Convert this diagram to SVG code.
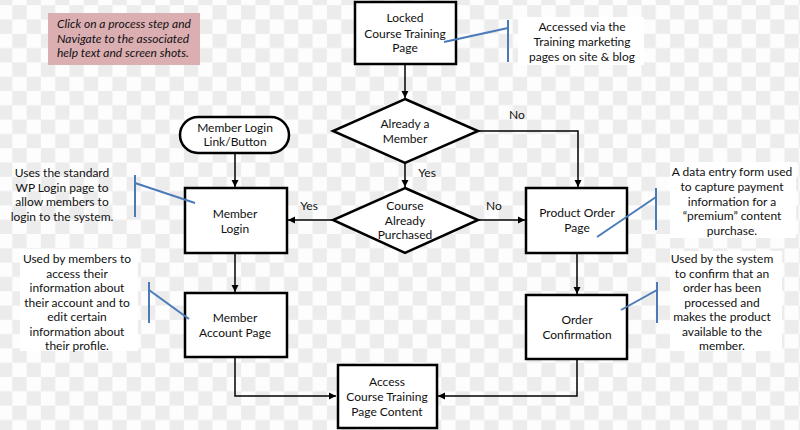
<svg xmlns="http://www.w3.org/2000/svg" width="800" height="430" viewBox="0 0 800 430">
<defs>
<pattern id="checker" patternUnits="userSpaceOnUse" x="12.3" y="5.2" width="28.6" height="28.6">
<rect width="28.6" height="28.6" fill="#fdfdfd"/>
<rect width="14.3" height="14.3" fill="#ececec"/>
<rect x="14.3" y="14.3" width="14.3" height="14.3" fill="#ececec"/>
</pattern>
<marker id="arr" markerWidth="8" markerHeight="8" refX="7" refY="4" orient="auto" markerUnits="userSpaceOnUse">
<path d="M0,0.5 L7,4 L0,7.5 Z" fill="#000"/>
</marker>
<style>
text{font-family:Lato,"Open Sans","Liberation Sans",sans-serif;font-size:12px;fill:#111;text-anchor:middle}
.box{fill:#fff;stroke:#000;stroke-width:2.5}
.conn{fill:none;stroke:#000;stroke-width:1.5}
.call{fill:none;stroke:#4a7ab8;stroke-width:2}
.note{font-style:italic;text-anchor:start}
.lbl{text-anchor:middle}
</style>
</defs>
<rect width="800" height="430" fill="url(#checker)"/>

<g id="note">
<rect x="48" y="13" width="152" height="52" fill="#dbaeb2"/>
<text class="note" x="57" y="28">Click on a process step and</text>
<text class="note" x="57" y="43">Navigate to the associated</text>
<text class="note" x="57" y="57">help text and screen shots.</text>
</g>

<g id="connectors">
<line class="conn" x1="405" y1="64" x2="405" y2="98" marker-end="url(#arr)"/>
<polyline class="conn" points="478,131 578,131 578,187" marker-end="url(#arr)"/>
<line class="conn" x1="405" y1="163" x2="405" y2="187" marker-end="url(#arr)"/>
<line class="conn" x1="478" y1="220" x2="525" y2="220" marker-end="url(#arr)"/>
<line class="conn" x1="333" y1="220" x2="288" y2="220" marker-end="url(#arr)"/>
<line class="conn" x1="235" y1="153" x2="235" y2="187" marker-end="url(#arr)"/>
<line class="conn" x1="235" y1="253" x2="235" y2="292" marker-end="url(#arr)"/>
<polyline class="conn" points="235,357 235,396 336,396" marker-end="url(#arr)"/>
<line class="conn" x1="577" y1="253" x2="577" y2="294" marker-end="url(#arr)"/>
<polyline class="conn" points="577,359 577,396 438,396" marker-end="url(#arr)"/>
<text x="517" y="119">No</text>
<text x="427" y="177">Yes</text>
<text x="494" y="210">No</text>
<text x="309" y="210">Yes</text>
</g>

<g id="locked">
<rect class="box" x="355" y="2" width="101" height="62"/>
<text x="405" y="22">Locked</text>
<text x="405" y="38">Course Training</text>
<text x="405" y="52">Page</text>
</g>

<g id="already-member">
<polygon class="box" points="405,99 478,131 405,163 333,131"/>
<text x="405" y="128">Already a</text>
<text x="405" y="143">Member</text>
</g>

<g id="already-purchased">
<polygon class="box" points="405,188 478,220 405,253 333,220"/>
<text x="405" y="210">Course</text>
<text x="405" y="225">Already</text>
<text x="405" y="239">Purchased</text>
</g>

<g id="login-link">
<rect class="box" x="180" y="117" width="109" height="36" rx="18" ry="18"/>
<text x="235" y="132">Member Login</text>
<text x="235" y="146">Link/Button</text>
</g>

<g id="member-login">
<rect class="box" x="185" y="188" width="102" height="65"/>
<text x="235" y="218">Member</text>
<text x="235" y="233">Login</text>
</g>

<g id="member-account">
<rect class="box" x="185" y="293" width="102" height="64"/>
<text x="235" y="322">Member</text>
<text x="235" y="337">Account Page</text>
</g>

<g id="access-content">
<rect class="box" x="338" y="365" width="99" height="63"/>
<text x="387" y="386">Access</text>
<text x="387" y="401">Course Training</text>
<text x="387" y="416">Page Content</text>
</g>

<g id="product-order">
<rect class="box" x="526" y="188" width="101" height="65"/>
<text x="577" y="217">Product Order</text>
<text x="577" y="232">Page</text>
</g>

<g id="order-confirmation">
<rect class="box" x="526" y="295" width="101" height="64"/>
<text x="577" y="324">Order</text>
<text x="577" y="339">Confirmation</text>
</g>

<g id="callout-top">
<rect x="518" y="17" width="126" height="48" fill="#fff"/>
<polyline class="call" points="444,42 508,28"/>
<line class="call" x1="508" y1="20" x2="508" y2="62"/>
<text x="582" y="31">Accessed via the</text>
<text x="582" y="46">Training marketing</text>
<text x="582" y="61">pages on site &amp; blog</text>
</g>

<g id="callout-login">
<polyline class="call" points="195,203 135,183"/>
<line class="call" x1="135" y1="175" x2="135" y2="217"/>
<text x="62" y="177">Uses the standard</text>
<text x="62" y="192">WP Login page to</text>
<text x="62" y="206">allow members to</text>
<text x="62" y="221">login to the system.</text>
</g>

<g id="callout-account">
<rect x="20" y="249" width="118" height="102" fill="#fff"/>
<polyline class="call" points="189,319 149,290"/>
<line class="call" x1="149" y1="282" x2="149" y2="323"/>
<text x="77" y="263">Used by members to</text>
<text x="77" y="278">access their</text>
<text x="77" y="292">information about</text>
<text x="77" y="307">their account and to</text>
<text x="77" y="321">edit certain</text>
<text x="77" y="336">information about</text>
<text x="77" y="350">their profile.</text>
</g>

<g id="callout-order">
<rect x="670" y="162" width="126" height="76" fill="#fff"/>
<polyline class="call" points="597,237 656,197"/>
<line class="call" x1="656" y1="188" x2="656" y2="230"/>
<text x="732" y="176">A data entry form used</text>
<text x="732" y="191">to capture payment</text>
<text x="732" y="206">information for a</text>
<text x="732" y="220">“premium” content</text>
<text x="732" y="235">purchase.</text>
</g>

<g id="callout-confirm">
<rect x="670" y="251" width="112" height="100" fill="#fff"/>
<polyline class="call" points="621,310 657,290"/>
<line class="call" x1="657" y1="282" x2="657" y2="323"/>
<text x="722" y="263">Used by the system</text>
<text x="722" y="278">to confirm that an</text>
<text x="722" y="292">order has been</text>
<text x="722" y="307">processed and</text>
<text x="722" y="321">makes the product</text>
<text x="722" y="336">available to the</text>
<text x="722" y="350">member.</text>
</g>
</svg>
